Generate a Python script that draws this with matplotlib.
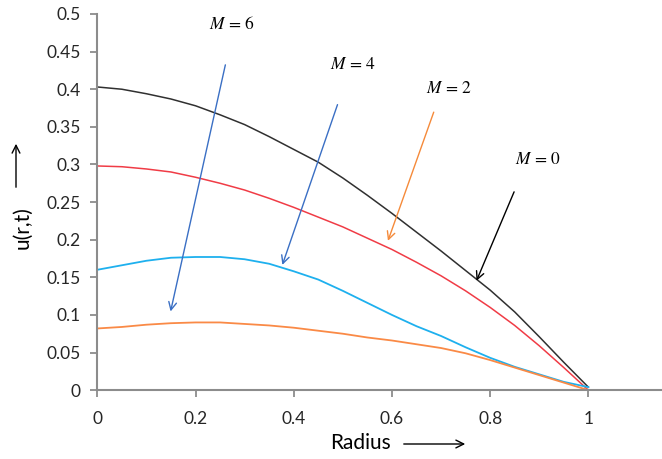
import matplotlib.pyplot as plt
from matplotlib.patches import FancyArrowPatch

plt.rcParams['mathtext.fontset'] = 'stix'

# Radius values and velocity profiles
radius = [0.0, 0.05, 0.1, 0.15, 0.2, 0.25, 0.3, 0.35, 0.4, 0.45, 0.5,
          0.55, 0.6, 0.65, 0.7, 0.75, 0.8, 0.85, 0.9, 0.95, 1.0]
u_m0 = [0.403, 0.400, 0.394, 0.387, 0.378, 0.366, 0.353, 0.337, 0.320, 0.303, 0.282,
        0.259, 0.235, 0.210, 0.185, 0.159, 0.133, 0.104, 0.071, 0.037, 0.004]
u_m2 = [0.298, 0.297, 0.294, 0.290, 0.283, 0.275, 0.266, 0.255, 0.243, 0.230, 0.217,
        0.202, 0.187, 0.170, 0.152, 0.132, 0.110, 0.086, 0.059, 0.030, 0.0]
u_m4 = [0.160, 0.166, 0.172, 0.176, 0.177, 0.177, 0.174, 0.168, 0.158, 0.147, 0.132,
        0.116, 0.100, 0.085, 0.072, 0.057, 0.043, 0.031, 0.021, 0.011, 0.004]
u_m6 = [0.082, 0.084, 0.087, 0.089, 0.090, 0.090, 0.088, 0.086, 0.083, 0.079, 0.075,
        0.070, 0.066, 0.061, 0.056, 0.049, 0.040, 0.030, 0.020, 0.010, 0.0]

x_ticks = [0, 0.2, 0.4, 0.6, 0.8, 1.0]
x_tick_labels = ['0', '0.2', '0.4', '0.6', '0.8', '1']
y_ticks = [0, 0.05, 0.1, 0.15, 0.2, 0.25, 0.3, 0.35, 0.4, 0.45, 0.5]
y_tick_labels = ['0', '0.05', '0.1', '0.15', '0.2', '0.25', '0.3', '0.35', '0.4', '0.45', '0.5']

# annotation labels: text, text position, arrow start, arrow tip, arrow colour
labels = ['$M\\,=\\,6$', '$M\\,=\\,4$', '$M\\,=\\,2$', '$M\\,=\\,0$']
label_pos = [(0.275, 0.487), (0.520, 0.433), (0.717, 0.402), (0.897, 0.307)]
arrow_from = [(0.262, 0.436), (0.491, 0.383), (0.687, 0.373), (0.851, 0.267)]
arrow_to = [(0.148, 0.101), (0.375, 0.163), (0.590, 0.195), (0.770, 0.142)]
arrow_colors = ['#3a6fc4', '#3a6fc4', '#f58a3a', '#000000']

fig = plt.figure(figsize=(6.62, 4.59), dpi=100)
ax = fig.add_axes([0.147, 0.150, 0.853, 0.8195])

ax.plot(radius, u_m0, color='#303030', lw=1.1)
ax.plot(radius, u_m2, color='#f03c46', lw=1.1)
ax.plot(radius, u_m4, color='#1eb0ee', lw=1.3)
ax.plot(radius, u_m6, color='#fa8a46', lw=1.3)

for txt, pos, a0, a1, c in zip(labels, label_pos, arrow_from, arrow_to, arrow_colors):
    ax.text(pos[0], pos[1], txt, fontsize=12.5, ha='center', va='center')
    ax.annotate('', xy=a1, xytext=a0,
                arrowprops=dict(arrowstyle='->', color=c, lw=1.0, mutation_scale=14))

ax.set_xlim(0, 1.15)
ax.set_ylim(0, 0.5)
ax.set_xticks(x_ticks)
ax.set_xticklabels(x_tick_labels)
ax.set_yticks(y_ticks)
ax.set_yticklabels(y_tick_labels)

for side in ['top', 'right']:
    ax.spines[side].set_visible(False)
for side in ['left', 'bottom']:
    ax.spines[side].set_color('#8c8c8c')
    ax.spines[side].set_linewidth(1.5)

ax.tick_params(axis='both', direction='out', length=5, width=1.3, color='#8c8c8c',
               labelsize=12.5, labelcolor='#262626')
ax.tick_params(axis='y', pad=7)
ax.tick_params(axis='x', pad=10)
for lab in ax.get_xticklabels() + ax.get_yticklabels():
    lab.set_family('Lato')

# axis titles with arrows, as in the original
fig.text(22 / 662, 1 - 228 / 459, 'u(r,t)', rotation=90, ha='center', va='center',
         fontsize=15, family='Lato')
fig.text(360 / 662, 1 - 443 / 459, 'Radius', ha='center', va='center',
         fontsize=15, family='Lato')
fig.add_artist(FancyArrowPatch(
    (16 / 662, 1 - 190 / 459), (16 / 662, 1 - 141 / 459), transform=fig.transFigure,
    arrowstyle='->', mutation_scale=14, lw=1.0, color='black'))
fig.add_artist(FancyArrowPatch(
    (401 / 662, 1 - 444 / 459), (468 / 662, 1 - 444 / 459), transform=fig.transFigure,
    arrowstyle='->', mutation_scale=14, lw=1.0, color='black'))

fig.savefig('out.png', dpi=100)
